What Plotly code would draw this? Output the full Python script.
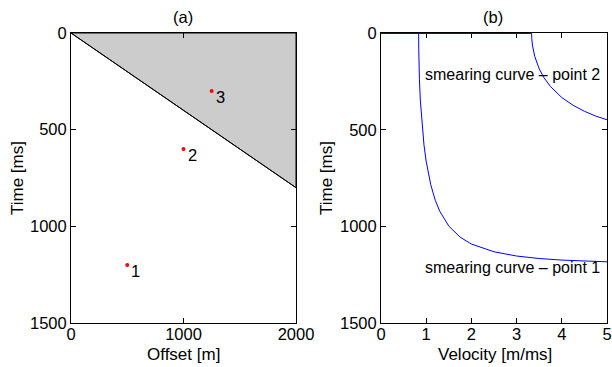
import plotly.graph_objects as go

# Panel (a) data
pt_offset = [500, 1000, 1250]
pt_time = [1200, 600, 300]
pt_labels = ["1", "2", "3"]
line_offset = [0, 2000]
line_time = [0, 800]
shade_offset = [0, 2000, 2000, 0]
shade_time = [0, 0, 800, 0]

# Panel (b) data: smearing curves
c1_vel = [0, 0.833, 0.835, 0.84, 0.85, 0.87, 0.9, 0.95, 1.0, 1.1, 1.2, 1.3, 1.5,
          1.75, 2.0, 2.5, 3.0, 3.5, 4.0, 4.5, 5.0]
c1_time = [0, 0, 76, 151, 237, 345, 453, 576, 663, 783, 864, 921, 998,
           1055, 1091, 1131, 1153, 1166, 1174, 1179, 1183]
c2_vel = [0, 3.333, 3.335, 3.34, 3.35, 3.4, 3.5, 3.6, 3.75, 4.0, 4.25, 4.5, 4.75, 5.0]
c2_time = [0, 0, 25, 38, 60, 118, 183, 227, 275, 332, 372, 403, 428, 447]

FONT = "Liberation Sans, Arial, sans-serif"
W, H = 612, 367


def px(x):
    return x / W


def py(y):
    return 1 - y / H


fig = go.Figure()
fig.add_trace(go.Scatter(x=shade_offset, y=shade_time, fill="toself",
                         fillcolor="#cccccc", line=dict(color="black", width=1),
                         mode="lines", xaxis="x", yaxis="y", hoverinfo="skip"))
fig.add_trace(go.Scatter(x=line_offset, y=line_time, mode="lines",
                         line=dict(color="black", width=1), xaxis="x", yaxis="y"))
fig.add_trace(go.Scatter(x=pt_offset, y=pt_time, mode="markers",
                         marker=dict(color="red", size=4), xaxis="x", yaxis="y"))
fig.add_trace(go.Scatter(x=c1_vel, y=c1_time, mode="lines",
                         line=dict(color="#0000ff", width=1), xaxis="x2", yaxis="y2"))
fig.add_trace(go.Scatter(x=c2_vel, y=c2_time, mode="lines",
                         line=dict(color="#0000ff", width=1), xaxis="x2", yaxis="y2"))


def txt(text, x, y, size, xanchor="center", yanchor="middle", angle=0):
    return dict(x=px(x), y=py(y), xref="paper", yref="paper", text=text, showarrow=False,
                xanchor=xanchor, yanchor=yanchor, textangle=angle,
                font=dict(size=size, color="black", family=FONT))


annotations = []
for xo, yt, lab in zip(pt_offset, pt_time, pt_labels):
    annotations.append(dict(x=xo, y=yt, xref="x", yref="y", text=lab, showarrow=False,
                            xanchor="left", yanchor="middle", xshift=2, yshift=-6,
                            font=dict(size=16.5, color="black", family=FONT)))
annotations.append(dict(x=0.92, y=212, xref="x2", yref="y2", text="smearing curve – point 2",
                        showarrow=False, xanchor="left", yanchor="middle",
                        font=dict(size=16, color="black", family=FONT)))
annotations.append(dict(x=0.92, y=1212, xref="x2", yref="y2", text="smearing curve – point 1",
                        showarrow=False, xanchor="left", yanchor="middle",
                        font=dict(size=16, color="black", family=FONT)))
annotations += [
    txt("(a)", 183, 17, 16.5),
    txt("(b)", 493, 17, 16.5),
    txt("Offset [m]", 183.5, 354, 17),
    txt("Velocity [m/ms]", 495, 354, 17),
    txt("Time [ms]", 17, 178, 17, angle=-90),
    txt("Time [ms]", 326, 178, 17, angle=-90),
]

axis_common = dict(showgrid=False, zeroline=False, showline=True, linecolor="black",
                   linewidth=1, mirror="ticks", ticks="inside", ticklen=5,
                   tickcolor="black", automargin=False,
                   tickfont=dict(size=16.5, color="black", family=FONT))

fig.update_layout(
    width=W, height=H, margin=dict(l=0, r=0, t=0, b=0, autoexpand=False),
    paper_bgcolor="white", plot_bgcolor="white", showlegend=False,
    font=dict(family=FONT, size=16, color="black"),
    xaxis=dict(domain=[px(71), px(296)], range=[0, 2000], tickvals=[0, 1000, 2000],
               anchor="y", ticklabelstandoff=-4, **axis_common),
    yaxis=dict(domain=[py(323), py(33)], range=[1500, 0], tickvals=[0, 500, 1000, 1500],
               anchor="x", **axis_common),
    xaxis2=dict(domain=[px(381), px(607)], range=[0, 5], tickvals=[0, 1, 2, 3, 4, 5],
                anchor="y2", ticklabelstandoff=-4, layer="below traces", **axis_common),
    yaxis2=dict(domain=[py(323), py(33)], range=[1500, -2.5], tickvals=[0, 500, 1000, 1500],
                anchor="x2", layer="below traces", **axis_common),
    annotations=annotations,
)

fig.write_html("out.html")
